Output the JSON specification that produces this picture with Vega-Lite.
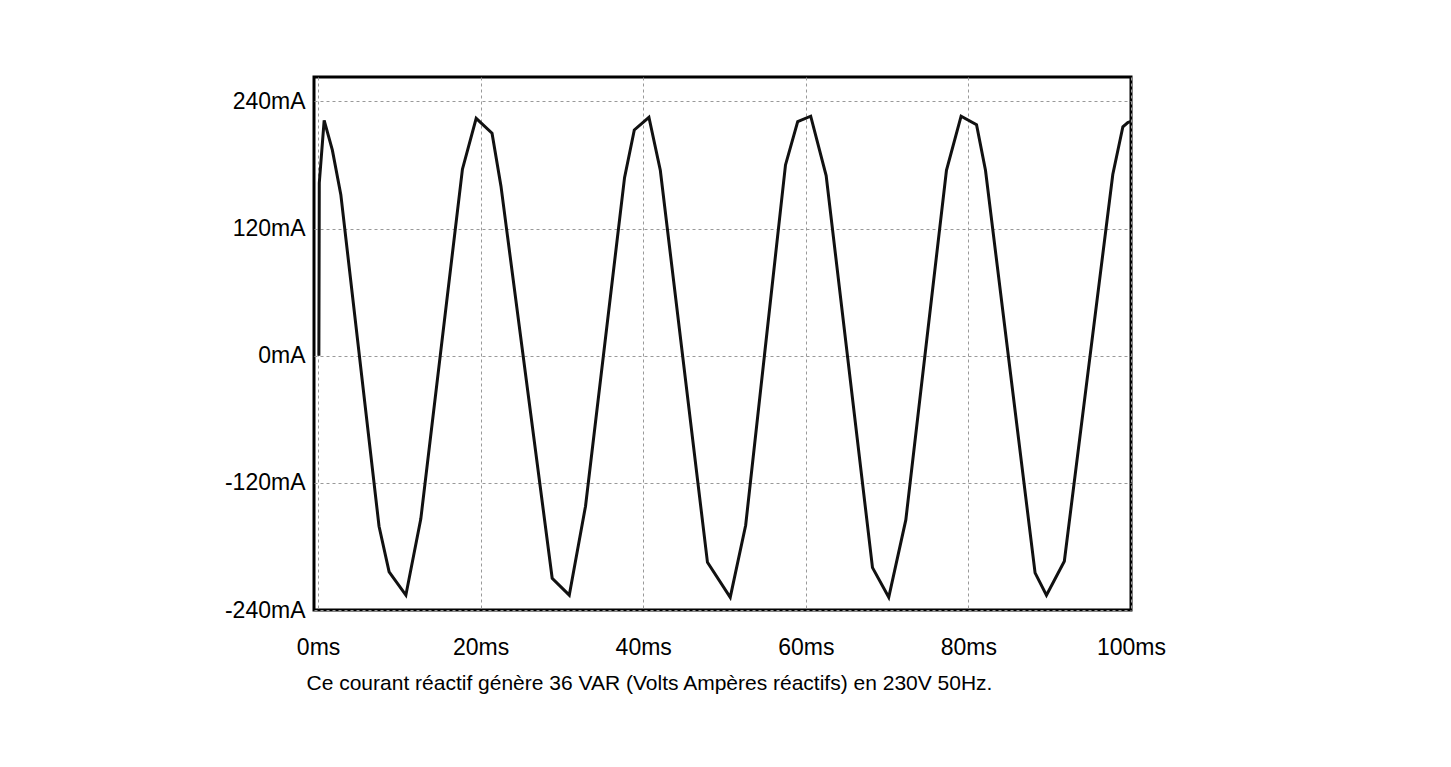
{
  "$schema": "https://vega.github.io/schema/vega-lite/v6.json",
  "width": 817,
  "height": 533,
  "autosize": {"type": "none"},
  "padding": {"left": 314, "top": 77, "right": 320, "bottom": 157},
  "background": "white",
  "config": {
    "font": "Liberation Sans",
    "view": {"stroke": "black", "strokeWidth": 3}
  },
  "data": {
    "values": [
      {"t": 0.1, "i": 0},
      {"t": 0.15, "i": 163},
      {"t": 0.75, "i": 222},
      {"t": 1.76, "i": 194},
      {"t": 2.8, "i": 152},
      {"t": 7.5, "i": -161},
      {"t": 8.74, "i": -204},
      {"t": 10.8, "i": -226},
      {"t": 12.64, "i": -154},
      {"t": 17.76, "i": 176},
      {"t": 19.45, "i": 224},
      {"t": 21.4, "i": 210},
      {"t": 22.5, "i": 160},
      {"t": 28.8, "i": -210},
      {"t": 30.9, "i": -226},
      {"t": 32.9, "i": -142},
      {"t": 37.7, "i": 168},
      {"t": 38.9, "i": 213},
      {"t": 40.7, "i": 225},
      {"t": 42.1, "i": 175},
      {"t": 47.9, "i": -195},
      {"t": 50.7, "i": -228},
      {"t": 52.6, "i": -160},
      {"t": 57.5, "i": 180},
      {"t": 59.0, "i": 221},
      {"t": 60.6, "i": 226},
      {"t": 62.5, "i": 170},
      {"t": 68.2, "i": -200},
      {"t": 70.2, "i": -228},
      {"t": 72.3, "i": -155},
      {"t": 77.3, "i": 175},
      {"t": 79.1, "i": 226},
      {"t": 81.0, "i": 218},
      {"t": 82.1, "i": 175},
      {"t": 88.2, "i": -205},
      {"t": 89.6, "i": -226},
      {"t": 91.8, "i": -194},
      {"t": 97.76, "i": 171},
      {"t": 99.0, "i": 216},
      {"t": 99.6, "i": 220},
      {"t": 100, "i": 221}
    ]
  },
  "mark": {"type": "line", "color": "#111111", "strokeWidth": 3, "clip": true},
  "encoding": {
    "x": {
      "field": "t",
      "type": "quantitative",
      "scale": {"domain": [-0.5, 100], "nice": false, "zero": false},
      "axis": {
        "values": [0, 20, 40, 60, 80, 100],
        "labelExpr": "datum.value + 'ms'",
        "labelFontSize": 23,
        "labelColor": "black",
        "labelPadding": 26,
        "labelFlush": false,
        "ticks": false,
        "domain": false,
        "grid": true,
        "gridColor": "#999999",
        "gridDash": [3, 3],
        "gridWidth": 1,
        "title": "Ce courant réactif génère 36 VAR (Volts Ampères réactifs) en 230V 50Hz.",
        "titleFontSize": 21,
        "titleFontWeight": "normal",
        "titleColor": "black",
        "titleAlign": "left",
        "titleAnchor": "start",
        "titleBaseline": "middle",
        "titleX": -8,
        "titleY": 73
      }
    },
    "y": {
      "field": "i",
      "type": "quantitative",
      "scale": {"domain": [-240, 263], "nice": false, "zero": false},
      "axis": {
        "values": [-240, -120, 0, 120, 240],
        "labelExpr": "datum.value + 'mA'",
        "labelFontSize": 23,
        "labelColor": "black",
        "labelPadding": 9,
        "labelFlush": false,
        "ticks": false,
        "domain": false,
        "grid": true,
        "gridColor": "#999999",
        "gridDash": [3, 3],
        "gridWidth": 1,
        "title": null
      }
    }
  }
}
